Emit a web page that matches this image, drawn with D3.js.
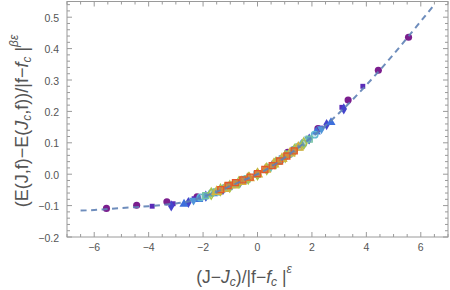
<!DOCTYPE html>
<html><head><meta charset="utf-8">
<script src="https://cdn.jsdelivr.net/npm/d3@7"></script>
<style>body{margin:0;background:#fff}svg{display:block}text{font-family:"Liberation Sans",Arial,sans-serif}</style>
</head><body><svg id="c" width="450" height="290"></svg>
<script>
// fitted scaling curve
const curveX = [-6.5,-6,-5.5,-5,-4.5,-4,-3.5,-3,-2.5,-2,-1.5,-1,-0.5,0,0.5,1,1.5,2,2.5,3,3.5,4,4.5,5,5.5,6,6.5];
const curveY = [-0.116,-0.114,-0.111,-0.108,-0.105,-0.102,-0.098,-0.093,-0.086,-0.072,-0.056,-0.038,-0.019,0.0,0.024,0.053,0.085,0.118,0.155,0.195,0.238,0.284,0.332,0.382,0.434,0.487,0.54];

// data series
const s1X = [-5.55,-4.44,-3.33,-2.22,-1.11,0,1.11,2.22,3.33,4.44,5.55];
const s1Y = [-0.109,-0.099,-0.088,-0.072,-0.04,0.0,0.07,0.145,0.236,0.331,0.436];
const s2X = [-3.87,-3.1,-2.33,-1.55,-0.775,0,0.775,1.55,2.33,3.1,3.87];
const s2Y = [-0.102,-0.094,-0.078,-0.057,-0.03,0.0,0.04,0.09,0.147,0.213,0.28];
const s3X = [-3.17,-2.54,-1.9,-1.27,-0.635,0,0.635,1.27,1.9,2.54,3.17];
const s3Y = [-0.101,-0.09,-0.07,-0.049,-0.025,0.0,0.033,0.072,0.112,0.158,0.208];
const s4X = [-2.7,-2.16,-1.62,-1.08,-0.54,0,0.54,1.08,1.62,2.16,2.7];
const s4Y = [-0.095,-0.08,-0.062,-0.041,-0.021,0.0,0.029,0.06,0.095,0.135,0.165];
const s5X = [-2.35,-1.88,-1.41,-0.94,-0.47,0,0.47,0.94,1.41,1.88,2.35];
const s5Y = [-0.083,-0.069,-0.053,-0.036,-0.018,0.0,0.024,0.052,0.081,0.112,0.144];
const s6X = [-2.1,-1.68,-1.26,-0.84,-0.42,0,0.42,0.84,1.26,1.68,2.1];
const s6Y = [-0.074,-0.06,-0.047,-0.032,-0.016,0.0,0.021,0.045,0.07,0.097,0.126];
const s7X = [-1.9,-1.52,-1.14,-0.76,-0.38,0,0.38,0.76,1.14,1.52,1.9];
const s7Y = [-0.068,-0.056,-0.043,-0.029,-0.015,0.0,0.019,0.041,0.064,0.087,0.112];
const s8X = [-1.7,-1.36,-1.02,-0.68,-0.34,0,0.34,0.68,1.02,1.36,1.7];
const s8Y = [-0.062,-0.05,-0.039,-0.026,-0.013,0.0,0.017,0.036,0.056,0.077,0.098];
const s9X = [-1.5,-1.2,-0.9,-0.6,-0.3,0,0.3,0.6,0.9,1.2,1.5];
const s9Y = [-0.056,-0.046,-0.035,-0.024,-0.012,0.0,0.015,0.032,0.049,0.067,0.085];
const s10X = [-1.35,-1.08,-0.81,-0.54,-0.27,0,0.27,0.54,0.81,1.08,1.35];
const s10Y = [-0.049,-0.036,-0.027,-0.018,-0.009,0.002,0.015,0.027,0.042,0.058,0.074];

const seriesXs = [s1X,s2X,s3X,s4X,s5X,s6X,s7X,s8X,s9X,s10X];
const seriesYs = [s1Y,s2Y,s3Y,s4Y,s5Y,s6Y,s7Y,s8Y,s9Y,s10Y];
const seriesColors = ["#7b1e8e","#5a2bb8","#4444cc","#3d6fdc","#4f95d8","#5fb6cf","#74c2a2","#a9c24a","#d6b23c","#e3582a"];
const seriesShapes = ["circle","square","diamond","triangle","triangleDown","circle","square","diamond","triangle","square"];
const seriesOpen = [false,false,false,false,false,true,true,true,true,true];

const xTicks = [-6,-4,-2,0,2,4,6];
const yTicks = [-0.2,-0.1,0.0,0.1,0.2,0.3,0.4,0.5];

const svg = d3.select("#c");
const x = d3.scaleLinear().domain([-7,7]).range([67,448]);
const y = d3.scaleLinear().domain([-0.2,0.55]).range([237,1.5]);
const frameCol = "#9a9a9a", labCol = "#555";

// points
const symMap = {circle:d3.symbolCircle, square:d3.symbolSquare, diamond:d3.symbolDiamond, triangle:d3.symbolTriangle};
const sizes = {circle:40, square:24, diamond:36, triangle:36, triangleDown:36};
seriesXs.forEach((xs,i)=>{
  const shape = seriesShapes[i];
  let size = sizes[shape];
  if (seriesOpen[i] && shape==="square") size = 36;
  if (seriesOpen[i] && shape==="circle") size = 34;
  const gen = d3.symbol().type(shape==="triangleDown"?d3.symbolTriangle:symMap[shape]).size(size);
  const g = svg.append("g");
  xs.forEach((xv,j)=>{
    const p = g.append("path").attr("d",gen())
      .attr("transform",`translate(${x(xv)},${y(seriesYs[i][j])})${shape==="triangleDown"?" rotate(180)":""}`);
    if (seriesOpen[i]) {
      p.attr("fill", seriesColors[i]).attr("fill-opacity", i===9?0.45:0.35)
       .attr("stroke", seriesColors[i]).attr("stroke-width", 1.3);
    } else {
      p.attr("fill", seriesColors[i]);
    }
  });
});

// curve
const line = d3.line().x((d,i)=>x(curveX[i])).y((d,i)=>y(curveY[i])).curve(d3.curveMonotoneX);
svg.append("path").datum(curveX).attr("d",line).attr("fill","none")
  .attr("stroke","#5e81b5").attr("stroke-width",2).attr("stroke-dasharray","6,4.5").attr("opacity",0.9);

// frame
const [x0,x1] = x.range(), [y0,y1] = y.range();
svg.append("rect").attr("x",x0).attr("y",y1).attr("width",x1-x0).attr("height",y0-y1)
  .attr("fill","none").attr("stroke",frameCol).attr("stroke-width",1);

// ticks inward
const xMinor = d3.range(-7,7.001,0.5);
const yMinor = d3.range(-0.2,0.5501,0.02);
const tk = svg.append("g").attr("stroke",frameCol).attr("stroke-width",1);
xMinor.forEach(v=>{
  const major = Math.abs(v/2-Math.round(v/2))<1e-6;
  const L = major?5:3;
  tk.append("line").attr("x1",x(v)).attr("x2",x(v)).attr("y1",y0).attr("y2",y0-L);
  tk.append("line").attr("x1",x(v)).attr("x2",x(v)).attr("y1",y1).attr("y2",y1+L);
});
yMinor.forEach(v=>{
  const major = Math.abs(v*10-Math.round(v*10))<1e-6;
  const L = major?5:3;
  tk.append("line").attr("y1",y(v)).attr("y2",y(v)).attr("x1",x0).attr("x2",x0+L);
  tk.append("line").attr("y1",y(v)).attr("y2",y(v)).attr("x1",x1).attr("x2",x1-L);
});

// tick labels
const fmtX = v => v<0 ? "\u2212"+Math.abs(v) : String(v);
const fmtY = v => (v<0?"\u2212":"")+Math.abs(v).toFixed(1);
svg.append("g").selectAll("text").data(xTicks).join("text")
  .attr("x",d=>x(d)).attr("y",251).attr("text-anchor","middle")
  .attr("font-size",10.5).attr("fill",labCol).text(fmtX);
svg.append("g").selectAll("text").data(yTicks).join("text")
  .attr("x",59).attr("y",d=>y(d)+4.5).attr("text-anchor","end")
  .attr("font-size",10.5).attr("fill",labCol).text(fmtY);

// axis labels
const xl = svg.append("text").attr("x",244).attr("y",283).attr("text-anchor","middle")
  .attr("font-size",17.5).attr("fill",labCol);
xl.append("tspan").text("(J\u2212");
xl.append("tspan").attr("font-style","italic").text("J");
xl.append("tspan").attr("font-style","italic").attr("font-size",12).attr("dy",3).text("c");
xl.append("tspan").attr("dy",-3).text(")/|f\u2212");
xl.append("tspan").attr("font-style","italic").text("f");
xl.append("tspan").attr("font-style","italic").attr("font-size",12).attr("dy",3).text("c");
xl.append("tspan").attr("dy",-3).text(" |");
xl.append("tspan").attr("font-style","italic").attr("font-size",12).attr("dy",-10).text("\u03B5");

const yl = svg.append("text").attr("transform","translate(28,121) rotate(-90)").attr("text-anchor","middle")
  .attr("font-size",18).attr("fill",labCol);
yl.append("tspan").text("(E(J,f)\u2212E(");
yl.append("tspan").attr("font-style","italic").text("J");
yl.append("tspan").attr("font-style","italic").attr("font-size",12).attr("dy",3).text("c");
yl.append("tspan").attr("dy",-3).text(",f))/|f\u2212");
yl.append("tspan").attr("font-style","italic").text("f");
yl.append("tspan").attr("font-style","italic").attr("font-size",12).attr("dy",3).text("c");
yl.append("tspan").attr("dy",-3).text(" |");
yl.append("tspan").attr("font-style","italic").attr("font-size",12).attr("dy",-10).text("\u03B2\u03B5");
</script></body></html>
